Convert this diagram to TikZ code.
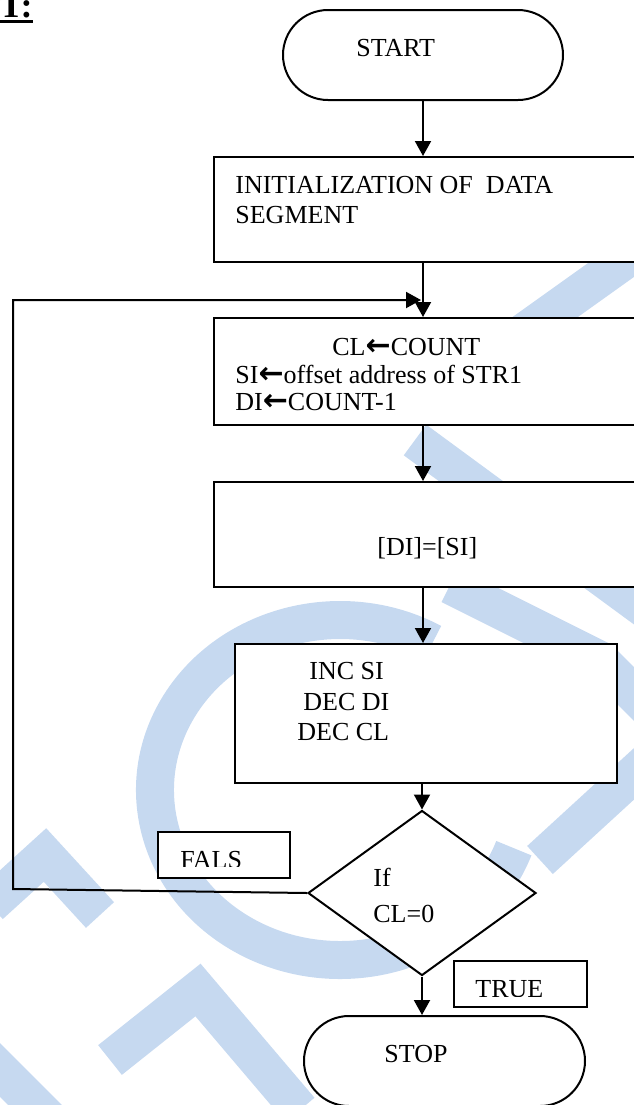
\documentclass[tikz,border=0pt]{standalone}
\usepackage{fontspec}
\setmainfont{Liberation Serif}
\newfontfamily\arrfont{DejaVu Sans}
\newcommand\larw{{\fontsize{15}{15}\arrfont\bfseries ←}}
\usetikzlibrary{arrows.meta,shapes.geometric}
\definecolor{wm}{RGB}{198,217,240}
\begin{document}
\begin{tikzpicture}[x=0.5pt,y=-0.5pt,
  box/.style={draw, line width=1pt, fill=white, inner sep=0pt},
  tag/.style={draw, line width=0.75pt, fill=white, inner sep=0pt},
  lab/.style={anchor=base west, inner sep=0pt, font=\fontsize{13}{15}\selectfont},
  flow/.style={line width=1pt, -{Triangle[length=7.5pt,width=8pt]}},
  wmark/.style={draw=wm, line width=19pt},
]
\useasboundingbox (0,0) rectangle (633,1105);
% watermark (background)
\draw[wmark] (432.5,642.8) arc[start angle=300, end angle=20, x radius=185, y radius=170];
\draw[wmark] (660,235) -- (520,335);
\draw[wmark] (415,440) -- (660,620);
\draw[wmark] (450,585) -- (600,660);
\draw[wmark] (540,860) -- (660,750);
\draw[wmark] (600,660) -- (660,720);
\draw[wmark, line join=miter] (110,1060) -- (198,990) -- (300,1110);
\draw[wmark, line join=miter] (-10,905) -- (45,855) -- (100,915);
\draw[wmark] (-20,1050) -- (50,1120);
% heading fragment
\node[anchor=base west, inner sep=0pt, font=\fontsize{18}{20}\selectfont\bfseries] (head) at (-1,17) {T:};
\fill (0,20) rectangle (33,23);
% shapes
\coordinate (axis) at (423,0);
\node[box, rounded corners=22.5pt, minimum width=140pt, minimum height=45pt] (start) at (423,55) {};
\node[box, minimum width=213pt, minimum height=52.5pt] (init) at (427,209.5) {};
\node[box, minimum width=213pt, minimum height=53.5pt] (assign) at (427,371.5) {};
\node[box, minimum width=213pt, minimum height=52.5pt] (copy) at (427,534.5) {};
\node[box, minimum width=191pt, minimum height=69.5pt] (update) at (426,713.5) {};
\node[box, diamond, minimum width=114pt, minimum height=82.5pt] (cond) at (422,893) {};
\node[tag, minimum width=66pt, minimum height=23pt] (fals) at (224,855) {};
\node[tag, minimum width=66.5pt, minimum height=23pt] (true) at (520.5,984) {};
\node[box, rounded corners=22.5pt, minimum width=140.5pt, minimum height=45pt] (stop) at (444.5,1061) {};
% connectors
\draw[flow] (start.south) -- (axis |- init.north);
\draw[flow] (axis |- init.south) -- (axis |- assign.north);
\draw[flow] (axis |- assign.south) -- (axis |- copy.north);
\draw[flow] (axis |- copy.south) -- (axis |- update.north);
\draw[flow] (cond.north |- update.south) -- (cond.north);
\draw[flow] (cond.south) -- (cond.south |- stop.north);
\coordinate (fb1) at (13,889);
\coordinate (fb2) at (13,300);
\coordinate (fb3) at (421,300);
\draw[flow] (cond.west) -- (fb1) -- (fb2) -- (fb3);
% texts
\node[lab] (tstart) at (356,56) {START};
\node[lab] (tinit1) at (235,193) {INITIALIZATION OF\ \ DATA};
\node[lab] (tinit2) at (235,223) {SEGMENT};
\node[lab] (ta1) at (332,355) {CL\larw COUNT};
\node[lab] (ta2) at (235,383) {SI\larw offset address of STR1};
\node[lab] (ta3) at (235,410) {DI\larw COUNT-1};
\node[lab] (tcopy) at (377,555) {[DI]=[SI]};
\node[lab] (tu1) at (309,679) {INC SI};
\node[lab] (tu2) at (303,710) {DEC DI};
\node[lab] (tu3) at (297,740) {DEC CL};
\node[lab] (tif) at (373,886) {If};
\node[lab] (tcl) at (373,922) {CL=0};
\begin{scope}
\clip (158,832) rectangle (290,866);
\node[lab] (tfals) at (180,868) {FALS};
\end{scope}
\begin{scope}
\clip (454,961) rectangle (587,996);
\node[lab] (ttrue) at (475,997) {TRUE};
\end{scope}
\node[lab] (tstop) at (384,1062) {STOP};
\end{tikzpicture}
\end{document}
